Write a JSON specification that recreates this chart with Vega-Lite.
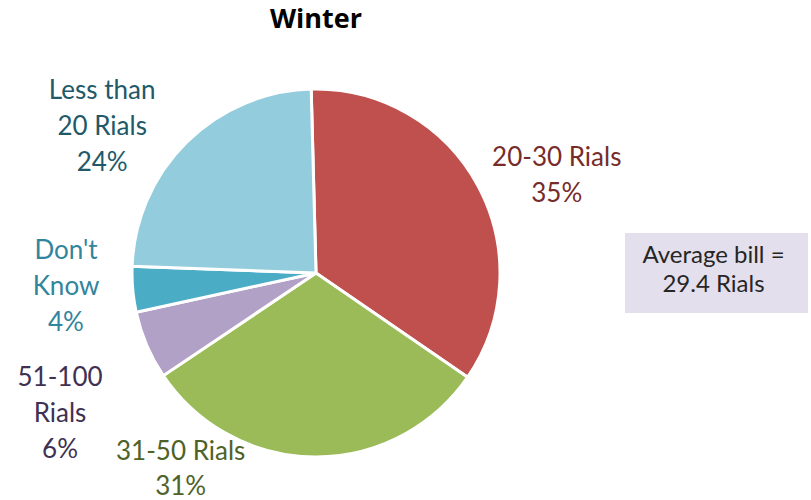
{
  "$schema": "https://vega.github.io/schema/vega-lite/v6.json",
  "padding": {"left": 7, "top": 6, "right": 0, "bottom": 0},
  "spacing": 0,
  "bounds": "flush",
  "center": true,
  "config": {"view": {"stroke": null}, "font": "Lato"},
  "hconcat": [
    {
      "width": 618,
      "height": 456,
      "title": {"text": "Winter", "font": "Open Sans", "fontSize": 27, "fontWeight": "bold", "color": "#000000", "anchor": "middle", "offset": 11},
      "data": {"values": [
        {"category": "20-30 Rials", "share": 35, "label": "20-30 Rials\n35%"},
        {"category": "31-50 Rials", "share": 31, "label": "31-50 Rials\n31%"},
        {"category": "51-100 Rials", "share": 6, "label": "51-100\nRials\n6%"},
        {"category": "Don't Know", "share": 4, "label": "Don't\nKnow\n4%"},
        {"category": "Less than 20 Rials", "share": 24, "label": "Less than\n20 Rials\n24%"}
      ]},
      "encoding": {
        "theta": {"field": "share", "type": "quantitative", "stack": true, "scale": {"range": [-0.0262, 6.257]}}
      },
      "layer": [
        {
          "mark": {"type": "arc", "radius": 184, "stroke": "#ffffff", "strokeWidth": 3},
          "encoding": {
            "color": {"field": "category", "type": "nominal", "legend": null,
              "scale": {"domain": ["20-30 Rials", "31-50 Rials", "51-100 Rials", "Don't Know", "Less than 20 Rials"],
                        "range": ["#C0504D", "#9BBB59", "#B2A1C7", "#4BACC6", "#93CDDD"]}}
          }
        },
        {
          "mark": {"type": "text", "clip": true, "radius": 200, "fontSize": 26, "lineBreak": "\n", "lineHeight": 36, "align": "center", "baseline": "middle", "color": "#772C2A", "dx": 65, "dy": -20},
          "encoding": {"detail": {"field": "category"}, "text": {"condition": {"test": "datum.category === '20-30 Rials'", "field": "label"}, "value": ""}}
        },
        {
          "mark": {"type": "text", "clip": true, "radius": 250, "fontSize": 26, "lineBreak": "\n", "lineHeight": 35, "align": "center", "baseline": "middle", "color": "#4F6228", "dx": -134, "dy": -71},
          "encoding": {"detail": {"field": "category"}, "text": {"condition": {"test": "datum.category === '31-50 Rials'", "field": "label"}, "value": ""}}
        },
        {
          "mark": {"type": "text", "clip": true, "radius": 250, "fontSize": 26, "lineBreak": "\n", "lineHeight": 36, "align": "center", "baseline": "middle", "color": "#403152", "dx": -26, "dy": 7},
          "encoding": {"detail": {"field": "category"}, "text": {"condition": {"test": "datum.category === '51-100 Rials'", "field": "label"}, "value": ""}}
        },
        {
          "mark": {"type": "text", "clip": true, "radius": 250, "fontSize": 26, "lineBreak": "\n", "lineHeight": 36, "align": "center", "baseline": "middle", "color": "#31859C", "dx": -1, "dy": -44},
          "encoding": {"detail": {"field": "category"}, "text": {"condition": {"test": "datum.category === \"Don't Know\"", "field": "label"}, "value": ""}}
        },
        {
          "mark": {"type": "text", "clip": true, "radius": 250, "fontSize": 26, "lineBreak": "\n", "lineHeight": 36, "align": "center", "baseline": "middle", "color": "#215968", "dx": -38, "dy": -4},
          "encoding": {"detail": {"field": "category"}, "text": {"condition": {"test": "datum.category === 'Less than 20 Rials'", "field": "label"}, "value": ""}}
        }
      ]
    },
    {
      "width": 183,
      "height": 80,
      "view": {"fill": "#E4DFEC", "stroke": null},
      "data": {"values": [{"note": "Average bill =\n29.4 Rials"}]},
      "mark": {"type": "text", "fontSize": 24, "lineBreak": "\n", "lineHeight": 29, "align": "center", "baseline": "middle", "color": "#262626", "dx": -3, "dy": -17},
      "encoding": {"text": {"field": "note"}}
    }
  ]
}
